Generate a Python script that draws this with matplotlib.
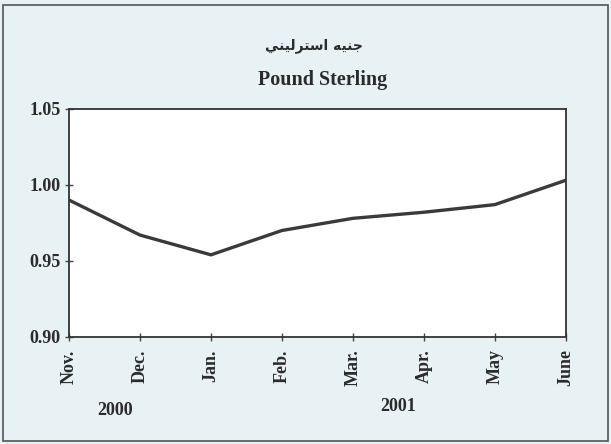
import matplotlib
matplotlib.use("Agg")
import matplotlib.pyplot as plt
from matplotlib.patches import Rectangle

# data
months = ['Nov.', 'Dec.', 'Jan.', 'Feb.', 'Mar.', 'Apr.', 'May', 'June']
rates = [0.990, 0.967, 0.954, 0.970, 0.978, 0.982, 0.987, 1.003]
y_ticks = [0.90, 0.95, 1.00, 1.05]
years = ['2000', '2001']

# Arabic title in presentation forms, visual order (no shaping engine in matplotlib)
title_ar = '\uFEF2\uFEE8\uFEF4\uFEDF\uFEAE\uFE98\uFEB3\uFE8D \uFEEA\uFEF4\uFEE8\uFE9F'
title_en = 'Pound Sterling'

bg = '#e8f2f5'
ink = '#2b2b2b'
serif = 'Liberation Serif'
fs = 13

fig = plt.figure(figsize=(6.11, 4.44), dpi=100, facecolor=bg)
fig.patches.append(Rectangle((0.005, 0.007), 0.99, 0.982, transform=fig.transFigure,
                             fill=False, edgecolor='#555555', linewidth=1.2))

ax = fig.add_axes([0.113, 0.241, 0.813, 0.514])
ax.set_facecolor('white')
x = list(range(len(months)))
ax.plot(x, rates, color='#3a3a3a', linewidth=2.4, solid_joinstyle='miter')

ax.set_xlim(0, len(months) - 1)
ax.set_ylim(0.90, 1.05)
ax.set_yticks(y_ticks)
ax.set_yticklabels(['%.2f' % v for v in y_ticks], fontfamily=serif, fontweight='bold',
                   fontsize=fs, color=ink)
ax.set_xticks(x)
ax.set_xticklabels(months, rotation=90, fontfamily=serif, fontweight='bold',
                   fontsize=fs, color=ink)
ax.tick_params(direction='inout', length=6, width=1, color='#444444')
ax.tick_params(axis='x', pad=6)
ax.tick_params(axis='y', pad=3)
for s in ax.spines.values():
    s.set_color('#333333')
    s.set_linewidth(1.3)

fig.text(314 / 611, 1 - 46 / 444, title_ar, ha='center', va='center', fontsize=10,
         fontfamily='DejaVu Sans', fontweight='bold', color=ink)
fig.text(323 / 611, 1 - 80 / 444, title_en, ha='center', va='center', fontsize=14.5,
         fontfamily=serif, fontweight='bold', color=ink)

fig.text(115 / 611, 1 - 410 / 444, years[0], ha='center', va='center', fontsize=fs,
         fontfamily=serif, fontweight='bold', color=ink)
fig.text(398 / 611, 1 - 406 / 444, years[1], ha='center', va='center', fontsize=fs,
         fontfamily=serif, fontweight='bold', color=ink)

fig.savefig('out.png', dpi=100, facecolor=bg)
